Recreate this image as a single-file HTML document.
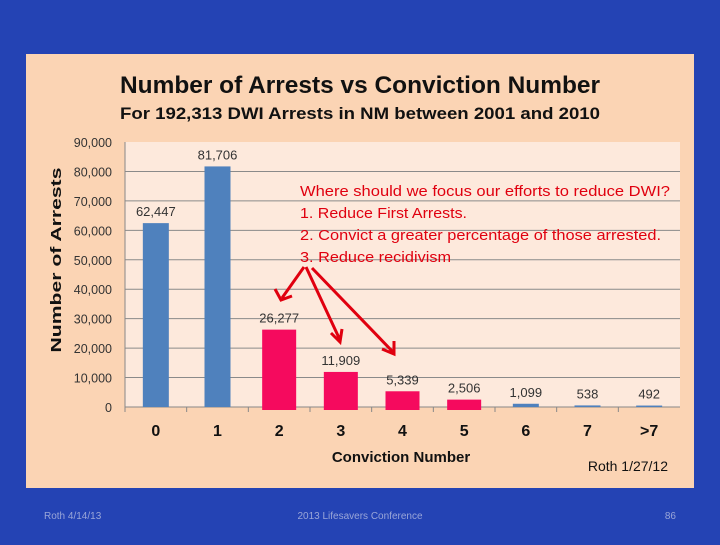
<!DOCTYPE html>
<html><head><meta charset="utf-8"><style>
body{margin:0;width:720px;height:540px;background:#2443b4;overflow:hidden;font-family:"Liberation Sans",sans-serif}
</style></head><body>
<svg width="720" height="540">
<rect x="0" y="0" width="720" height="540" fill="#2443b4"/>
<rect x="26" y="54" width="668" height="434" fill="#fbd4b4"/>
<rect x="125" y="142" width="555" height="265" fill="#fde9dc"/>
<text x="120" y="93" font-size="24" font-weight="bold" fill="#111" textLength="480" lengthAdjust="spacingAndGlyphs">Number  of  Arrests  vs  Conviction Number</text>
<text x="120" y="119" font-size="17" font-weight="bold" fill="#111" textLength="480" lengthAdjust="spacingAndGlyphs">For 192,313 DWI Arrests in NM between 2001 and 2010</text>
<g id="grid"></g><g id="bars"></g>
<text transform="translate(61,260) rotate(-90)" text-anchor="middle" font-size="15" font-weight="bold" fill="#111" textLength="185" lengthAdjust="spacingAndGlyphs">Number of Arrests</text>
<text x="401" y="462" text-anchor="middle" font-size="15" font-weight="bold" fill="#111">Conviction Number</text>
<text x="668" y="471" text-anchor="end" font-size="14" fill="#111">Roth 1/27/12</text>
<g fill="#e0000f" font-size="15">
<text x="300" y="196" textLength="370" lengthAdjust="spacingAndGlyphs">Where should we focus our efforts to reduce DWI?</text>
<text x="300" y="218" textLength="167" lengthAdjust="spacingAndGlyphs">1. Reduce First Arrests.</text>
<text x="300" y="240" textLength="361" lengthAdjust="spacingAndGlyphs">2. Convict a greater percentage of those arrested.</text>
<text x="300" y="262" textLength="151" lengthAdjust="spacingAndGlyphs">3. Reduce recidivism</text>
</g>
<g stroke="#e0000f" stroke-width="3" fill="none">
<path d="M304,267 L282,298 M275,289 L281,300 L292,296"/>
<path d="M306,267 L340,340 M331,333 L340,342 L342,329"/>
<path d="M312,268 L393,352 M382,349 L394,354 L394,341"/>
</g>
<text x="44" y="519" font-size="10" fill="#9aa6d8">Roth 4/14/13</text>
<text x="360" y="519" text-anchor="middle" font-size="10" fill="#9aa6d8">2013 Lifesavers Conference</text>
<text x="676" y="519" text-anchor="end" font-size="10" fill="#9aa6d8">86</text>
</svg>
<script>
const categories=["0","1","2","3","4","5","6","7",">7"];
const values=[62447,81706,26277,11909,5339,2506,1099,538,492];
const valueLabels=["62,447","81,706","26,277","11,909","5,339","2,506","1,099","538","492"];
const highlighted=[false,false,true,true,true,true,false,false,false];
const yTicks=[0,10000,20000,30000,40000,50000,60000,70000,80000,90000];
const yTickLabels=["0","10,000","20,000","30,000","40,000","50,000","60,000","70,000","80,000","90,000"];
const NS="http://www.w3.org/2000/svg";
const x0=125,x1=680,yB=407,yT=142,yMax=90000;
const y=v=>yB-(v/yMax)*(yB-yT);
const bw=(x1-x0)/categories.length;
const x=i=>x0+bw*(i+0.5);
function mk(t,a,p){const e=document.createElementNS(NS,t);for(const k in a)e.setAttribute(k,a[k]);p.appendChild(e);return e;}
const g=document.getElementById('grid'),b=document.getElementById('bars');
yTicks.forEach((v,i)=>{
 if(v>0&&v<yMax){const l=mk('line',{x1:x0,x2:x1,y1:y(v),y2:y(v),stroke:'#8a8a8a','stroke-width':1},g);
 
 }
 const t=mk('text',{x:112,y:y(v)+5,'text-anchor':'end','font-size':12.5,fill:'#333'},g);t.textContent=yTickLabels[i];
 
 
});
const ax=mk('line',{x1:x0,x2:x0,y1:yT,y2:yB,stroke:'#888'},g);


const bx=mk('line',{x1:x0,x2:x1,y1:yB,y2:yB,stroke:'#888'},g);


categories.forEach((c,i)=>{
 const tk=mk('line',{x1:x0+bw*i,x2:x0+bw*i,y1:yB,y2:yB+5,stroke:'#888'},g);
 
 
 const h=highlighted[i],w=h?34:26;
 const r=mk('rect',{x:x(i)-w/2,y:y(values[i]),width:w,height:yB-y(values[i])+(h?3:0),fill:h?'#f50a5e':'#4f81bd'},b);
 
 
 const vl=mk('text',{x:x(i),y:y(values[i])-7,'text-anchor':'middle','font-size':13,fill:'#333'},b);vl.textContent=valueLabels[i];
 
 
 const cl=mk('text',{x:x(i),y:436,'text-anchor':'middle','font-size':16,'font-weight':'bold',fill:'#111'},b);cl.textContent=c;
 
 
});
</script>
</body></html>
